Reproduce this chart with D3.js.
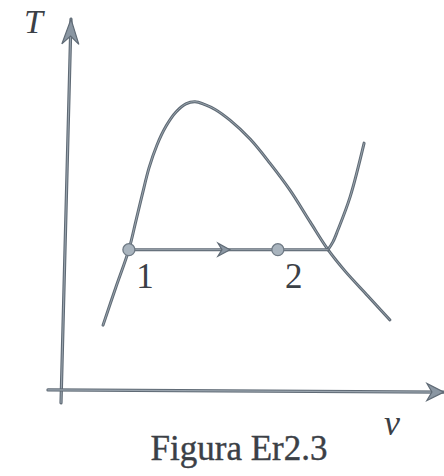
<!DOCTYPE html>
<html>
<head>
<meta charset="utf-8">
<script src="https://cdn.jsdelivr.net/npm/d3@7"></script>
<style>
  html, body { margin: 0; padding: 0; background: #fff; }
  svg { display: block; }
  text { fill: #3b4046; font-family: "Liberation Serif", "DejaVu Serif", serif; }
</style>
</head>
<body>
<svg id="chart" width="444" height="476"></svg>
<script>
// Saturation dome (liquid line, critical region, vapor line) in (v, T) units
const domeV = [1.08, 1.42, 1.76, 1.95, 2.11, 2.29, 2.50, 2.74, 3.00, 3.26, 3.50, 3.76, 4.03, 4.42, 4.95, 5.47, 6.00, 6.53, 7.00, 7.45, 8.05, 8.63];
const domeT = [1.78, 2.81, 3.82, 4.62, 5.30, 6.03, 6.65, 7.16, 7.54, 7.76, 7.82, 7.74, 7.61, 7.32, 6.81, 6.16, 5.43, 4.57, 3.82, 3.24, 2.57, 1.92];

// Constant-pressure line: horizontal through the dome, then superheated vapor
const isobarV = [1.76, 7.00];
const isobarT = [3.82, 3.82];
const superV = [7.00, 7.13, 7.26, 7.58, 7.95];
const superT = [3.82, 4.03, 4.35, 5.24, 6.70];

// Marked states
const stateNames = ["1", "2"];
const stateV = [1.76, 5.68];
const stateT = [3.82, 3.82];

// Direction arrow on the process path
const arrowV = [4.42];
const arrowT = [3.82];

const axisLabels = ["T", "v"];
const caption = "Figura Er2.3";

const svg = d3.select("#chart");
const x = d3.scaleLinear().domain([0, 10]).range([62, 442]);
const y = d3.scaleLinear().domain([0, 10]).range([391, 21]);

const lineDark = "#5f6a75";
const lineLight = "#aeb8c1";

function strokePath(d, w) {
  svg.append("path").attr("d", d).attr("fill", "none")
    .attr("stroke", lineDark).attr("stroke-width", w)
    .attr("stroke-linecap", "round").attr("stroke-linejoin", "round");
  svg.append("path").attr("d", d).attr("fill", "none")
    .attr("stroke", lineLight).attr("stroke-width", w * 0.33)
    .attr("stroke-linecap", "round").attr("stroke-opacity", 0.75);
}

// Barbed arrowhead pointing along angle (radians), tip at (tx, ty)
function arrowHead(tx, ty, ang, len, half, notch) {
  const c = Math.cos(ang), s = Math.sin(ang);
  const pt = (a, b) => [tx + a * c - b * s, ty + a * s + b * c];
  const p = [pt(0, 0), pt(-len, -half), pt(-notch, 0), pt(-len, half)];
  svg.append("path").attr("d", "M" + p.map(q => q.join(",")).join("L") + "Z")
    .attr("fill", "#8a96a2").attr("stroke", lineDark).attr("stroke-width", 1.2)
    .attr("stroke-linejoin", "miter");
}

// Axes
const lean = 10;
const yAxisFoot = [x(0) - 1, y(-0.32)];
const yAxisTip = [x(0) - 1 + lean, y(10.05)];
const xAxisFoot = [x(-0.37), y(0.03)];
const xAxisTip = [x(10.05), y(-0.03)];
strokePath(d3.line()([yAxisFoot, yAxisTip]), 3.2);
strokePath(d3.line()([xAxisFoot, xAxisTip]), 3.2);
arrowHead(yAxisTip[0], yAxisTip[1],
  Math.atan2(yAxisTip[1] - yAxisFoot[1], yAxisTip[0] - yAxisFoot[0]), 25, 8.5, 17);
arrowHead(xAxisTip[0], xAxisTip[1],
  Math.atan2(xAxisTip[1] - xAxisFoot[1], xAxisTip[0] - xAxisFoot[0]), 17, 8.5, 12);

// Curves
const curve = d3.line().x(d => x(d[0])).y(d => y(d[1])).curve(d3.curveCatmullRom.alpha(0.5));
strokePath(curve(domeV.map((v, i) => [v, domeT[i]])), 3);
strokePath(curve(superV.map((v, i) => [v, superT[i]])), 3);
strokePath(d3.line().x(d => x(d[0])).y(d => y(d[1]))(isobarV.map((v, i) => [v, isobarT[i]])), 3);

// Process direction arrow
arrowV.forEach((v, i) => arrowHead(x(v), y(arrowT[i]), 0, 12, 6.5, 8));

// States
stateV.forEach((v, i) => {
  svg.append("circle").attr("cx", x(v)).attr("cy", y(stateT[i])).attr("r", 6)
    .attr("fill", "#a9b4be").attr("stroke", "#6f7a85").attr("stroke-width", 1.3);
  svg.append("text").attr("x", x(v) + 16).attr("y", y(stateT[i]) + 38)
    .attr("text-anchor", "middle").attr("font-size", 35).text(stateNames[i]);
});

// Axis labels
svg.append("text").attr("x", 24).attr("y", 33).attr("font-style", "italic")
  .attr("font-size", 34).text(axisLabels[0]);
svg.append("text").attr("x", 384).attr("y", 435).attr("font-style", "italic")
  .attr("font-size", 36).text(axisLabels[1]);

// Caption
svg.append("text").attr("x", 239).attr("y", 460).attr("text-anchor", "middle")
  .attr("font-size", 35).attr("stroke", "#3b4046").attr("stroke-width", 0.4)
  .text(caption);
</script>
</body>
</html>
